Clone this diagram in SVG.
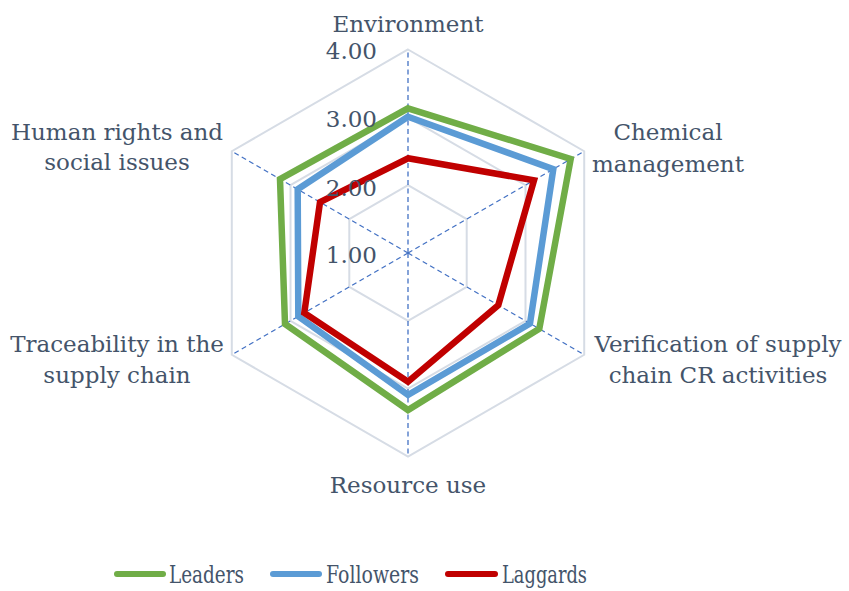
<svg xmlns="http://www.w3.org/2000/svg" width="849" height="591" viewBox="0 0 849 591">
<style>
.grid{fill:none;stroke:#d6dce5;stroke-width:2}
.axis{stroke:#4472c4;stroke-width:1.3;stroke-dasharray:5 3.5}
.s{fill:none;stroke-width:6.5;stroke-linejoin:miter}
.t{font-family:"DejaVu Serif","Liberation Serif",serif;font-size:23px;fill:#44546a}
.lt{font-size:25px}
.m{text-anchor:middle}
.e{text-anchor:end}
.lg{stroke-width:6;stroke-linecap:round}
</style>
<rect width="849" height="591" fill="#ffffff"/>
<g id="grid">
<polygon class="grid" points="408,185.2 466.7,219.1 466.7,286.9 408,320.8 349.3,286.9 349.3,219.1"/>
<polygon class="grid" points="408,117.3 525.5,185.15 525.5,320.85 408,388.7 290.5,320.85 290.5,185.15"/>
<polygon class="grid" points="408,49.5 584.2,151.25 584.2,354.75 408,456.5 231.8,354.75 231.8,151.25"/>
</g>
<g id="connectors">
<line class="axis" x1="408" y1="253" x2="408" y2="49.5"/>
<line class="axis" x1="408" y1="253" x2="584.2" y2="151.25"/>
<line class="axis" x1="408" y1="253" x2="584.2" y2="354.75"/>
<line class="axis" x1="408" y1="253" x2="408" y2="456.5"/>
<line class="axis" x1="408" y1="253" x2="231.8" y2="354.75"/>
<line class="axis" x1="408" y1="253" x2="231.8" y2="151.25"/>
</g>
<g id="leaders">
<polygon class="s" stroke="#70ad47" points="408,108.3 570.7,159 539.3,328.8 408,410 285,324 280,179.1"/>
</g>
<g id="followers">
<polygon class="s" stroke="#5b9bd5" points="408,116.7 553.3,169.1 530,323.5 408,395 298.3,316.4 297.7,189.3"/>
</g>
<g id="laggards">
<polygon class="s" stroke="#c00000" points="408,158.3 534,180.3 498.3,305.2 408,381.7 304.3,312.9 320,202.2"/>
</g>
<g id="scale">
<text class="t e" x="377" y="263">1.00</text>
<text class="t e" x="377" y="195.5">2.00</text>
<text class="t e" x="377" y="127">3.00</text>
<text class="t e" x="377" y="59">4.00</text>
</g>
<g id="labels">
<text class="t m" x="408" y="31.5">Environment</text>
<text class="t m" x="668" y="140">Chemical</text>
<text class="t m" x="668" y="171.5">management</text>
<text class="t m" x="718" y="351.5">Verification of supply</text>
<text class="t m" x="718" y="382.5">chain CR activities</text>
<text class="t m" x="408" y="493">Resource use</text>
<text class="t m" x="117" y="351.5">Traceability in the</text>
<text class="t m" x="117" y="382.5">supply chain</text>
<text class="t m" x="117" y="139.5">Human rights and</text>
<text class="t m" x="117" y="170">social issues</text>
</g>
<g id="legend">
<line class="lg" stroke="#70ad47" x1="117" y1="574" x2="163" y2="574"/>
<text class="t lt" x="169" y="583" textLength="75" lengthAdjust="spacingAndGlyphs">Leaders</text>
<line class="lg" stroke="#5b9bd5" x1="273" y1="574" x2="319" y2="574"/>
<text class="t lt" x="326" y="583" textLength="93" lengthAdjust="spacingAndGlyphs">Followers</text>
<line class="lg" stroke="#c00000" x1="448" y1="574" x2="495" y2="574"/>
<text class="t lt" x="502" y="583" textLength="85" lengthAdjust="spacingAndGlyphs">Laggards</text>
</g>
</svg>
